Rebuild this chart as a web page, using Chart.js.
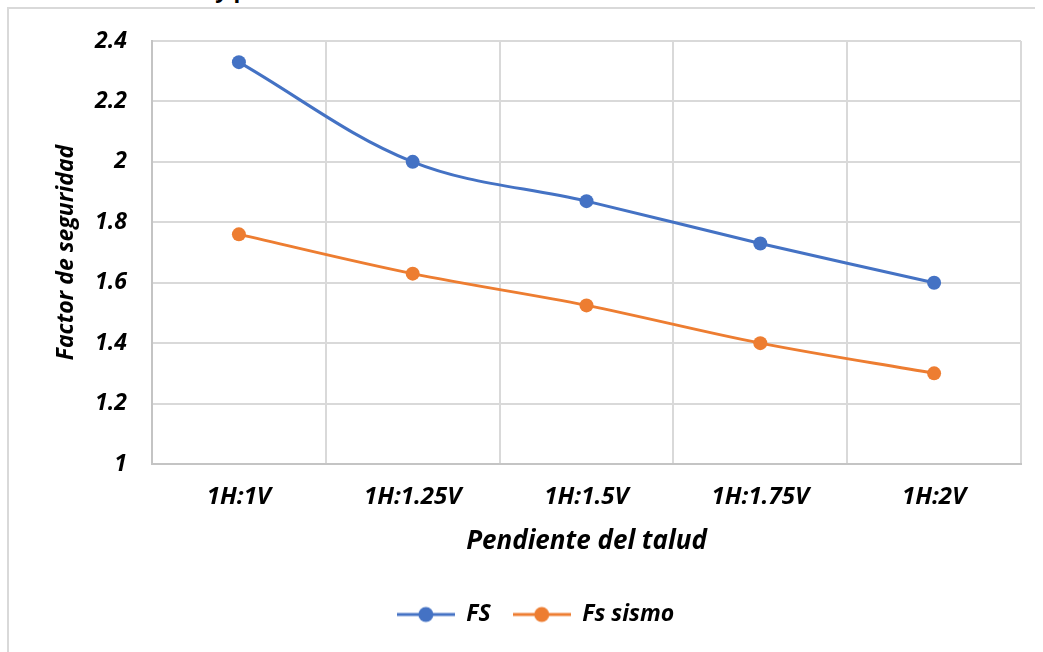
<!DOCTYPE html>
<html>
<head>
<meta charset="utf-8">
<script src="https://cdn.jsdelivr.net/npm/chart.js@4.4.1/dist/chart.umd.min.js"></script>
<style>
  html, body { margin: 0; padding: 0; background: #fff; }
  body { width: 1043px; height: 652px; position: relative; overflow: hidden; }
  #cap { position: absolute; left: 10px; top: -26px; font: bold 22px "Open Sans", sans-serif; color: #000; white-space: nowrap; }
  #frame { position: absolute; left: 7px; top: 7px; width: 1026px; height: 660px; border-top: 2px solid #d9d9d9; border-left: 2px solid #d9d9d9; }
  #wrap { position: absolute; left: 0; top: 0; width: 1043px; height: 652px; }
</style>
</head>
<body>
<div id="cap">condición estática y pseudoestática – Escenario 3</div>
<div id="frame"></div>
<div id="wrap"><canvas id="c"></canvas></div>
<script>
var categories = ['1H:1V', '1H:1.25V', '1H:1.5V', '1H:1.75V', '1H:2V'];
var fsValues = [2.33, 2.00, 1.87, 1.73, 1.60];
var sismoValues = [1.76, 1.63, 1.525, 1.40, 1.30];
var seriesNames = ['FS', 'Fs sismo'];
var colors = ['#4472C4', '#ED7D31'];

var tickFont = { family: '"Open Sans", sans-serif', size: 23, weight: 'bold', style: 'italic' };
var xTickFont = { family: '"Open Sans", sans-serif', size: 24, weight: 'bold', style: 'italic' };

// legend marker: short line with a dot in the middle
function marker(color) {
    var cv = document.createElement('canvas');
    cv.width = 58; cv.height = 18;
    var g = cv.getContext('2d');
    g.strokeStyle = color; g.lineWidth = 3;
    g.beginPath(); g.moveTo(0, 9); g.lineTo(58, 9); g.stroke();
    g.fillStyle = color;
    g.beginPath(); g.arc(29, 9, 7.5, 0, Math.PI * 2); g.fill();
    return cv;
}

var ctx = document.getElementById('c').getContext('2d');
var chart = new Chart(ctx, {
    type: 'line',
    data: {
        labels: categories,
        datasets: [{
            label: seriesNames[0],
            data: fsValues,
            borderColor: colors[0],
            backgroundColor: colors[0],
            borderWidth: 3,
            pointRadius: 7,
            pointBorderWidth: 0,
            tension: 0.35
        }, {
            label: seriesNames[1],
            data: sismoValues,
            borderColor: colors[1],
            backgroundColor: colors[1],
            borderWidth: 3,
            pointRadius: 7,
            pointBorderWidth: 0,
            tension: 0.35
        }]
    },
    options: {
        responsive: true,
        maintainAspectRatio: false,
        animation: false,
        layout: { padding: { left: 50, top: 41, right: 22, bottom: 16 } },
        plugins: {
            tooltip: { enabled: false },
            legend: {
                position: 'bottom',
                labels: {
                    usePointStyle: true,
                    pointStyleWidth: 58,
                    padding: 22,
                    color: '#000',
                    font: { family: '"Open Sans", sans-serif', size: 23, weight: 'bold', style: 'italic' },
                    generateLabels: function (ch) {
                        return ch.data.datasets.map(function (ds, i) {
                            return { text: ds.label, pointStyle: marker(colors[i]), datasetIndex: i, fontColor: '#000', lineWidth: 0, strokeStyle: 'transparent', fillStyle: 'transparent' };
                        });
                    }
                }
            }
        },
        scales: {
            x: {
                offset: true,
                grid: { offset: true, color: '#d9d9d9', lineWidth: 2, drawTicks: false },
                border: { color: '#c4c4c4', width: 2 },
                ticks: { color: '#000', font: xTickFont, padding: 19 },
                title: { display: true, text: 'Pendiente del talud', color: '#000', font: { family: '"Open Sans", sans-serif', size: 26, weight: 'bold', style: 'italic' }, padding: { top: 0, bottom: 24 } },
                afterFit: function (s) { s.height = 117; }
            },
            y: {
                min: 1,
                max: 2.4,
                ticks: {
                    stepSize: 0.2, color: '#000', font: tickFont, padding: 25,
                    callback: function (v) { return String(Math.round(v * 10) / 10); }
                },
                grid: { color: '#d9d9d9', lineWidth: 2, drawTicks: false },
                border: { color: '#c4c4c4', width: 2 },
                title: { display: true, text: 'Factor de seguridad', color: '#000', font: { family: '"Open Sans", sans-serif', size: 23, weight: 'bold', style: 'italic' }, padding: { top: 3, bottom: 0 } },
                afterFit: function (s) { s.width = 102; }
            }
        }
    }
});
</script>
</body>
</html>
